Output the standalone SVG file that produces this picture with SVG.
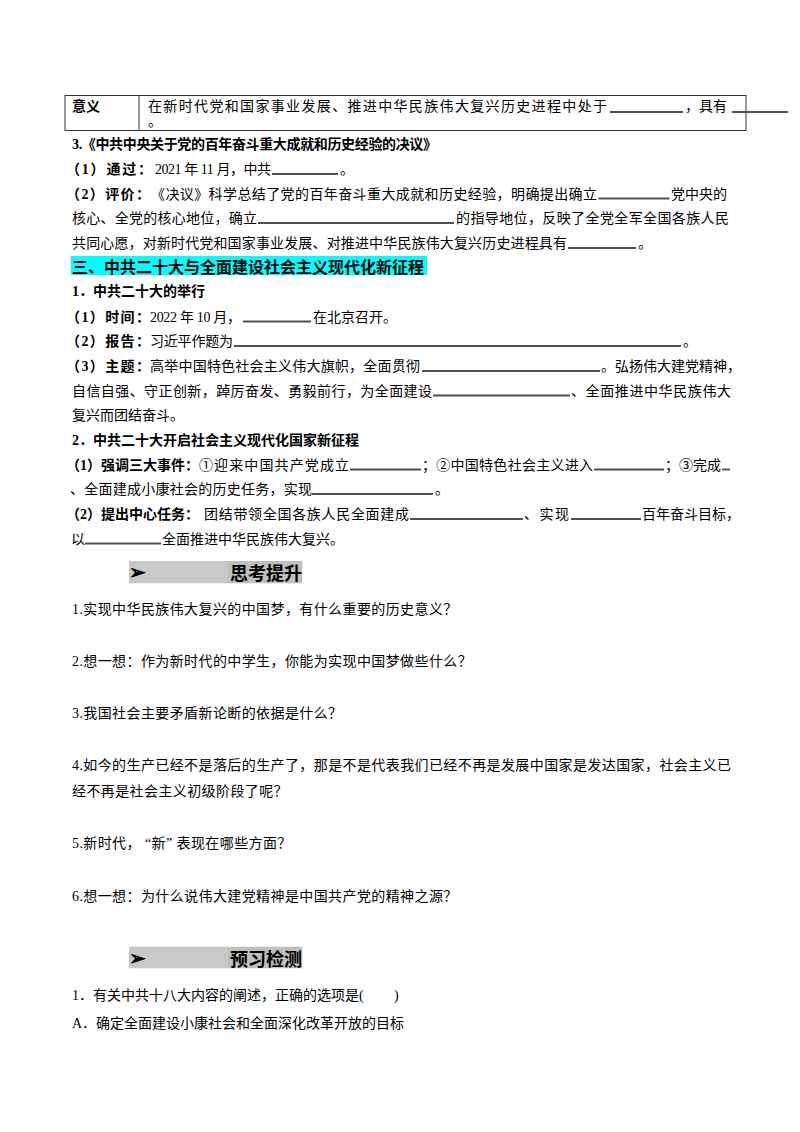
<svg xmlns="http://www.w3.org/2000/svg" width="800" height="1132" viewBox="0 0 800 1132">
<style>
.r{font-family:"Liberation Serif","Noto Sans CJK SC",serif;font-size:14px;fill:#000}
.b{font-family:"Liberation Serif","Noto Sans CJK SC",serif;font-size:14px;font-weight:bold;fill:#000}
.h{font-family:"Liberation Serif","Noto Sans CJK SC",sans-serif;font-size:16px;font-weight:bold;fill:#000}
.bt{font-family:"Noto Sans CJK SC",sans-serif;font-size:18px;font-weight:bold;fill:#000}
.ar{font-family:"DejaVu Sans",sans-serif;font-size:20px;font-weight:bold;fill:#000;stroke:#000;stroke-width:0.8}
.q{letter-spacing:0.4px}
.u{stroke:#505050;stroke-width:1.9;fill:none}
.g1{fill:#c8c8c8}
.g2{fill:#bfbfbf}
</style>
<rect width="800" height="1132" fill="#fff"/>

<g id="table">
<rect x="65" y="95.5" width="681" height="35" fill="none" stroke="#333" stroke-width="1"/>
<line x1="139" y1="95.5" x2="139" y2="130.5" stroke="#333" stroke-width="1"/>
<text class="b" x="72" y="111">意义</text>
<text class="r" x="148" y="111" textLength="459">在新时代党和国家事业发展、推进中华民族伟大复兴历史进程中处于</text>
<line class="u" x1="610" y1="112" x2="683" y2="112"/>
<text class="r" x="685" y="111">，具有</text>
<line class="u" x1="732" y1="112" x2="788" y2="112"/>
<text class="r" x="148" y="126">。</text>
</g>

<g id="resolution">
<text class="b" x="72" y="149" textLength="365">3.《中共中央关于党的百年奋斗重大成就和历史经验的决议》</text>
<text class="b" x="66" y="174" textLength="86">（1）通过：</text>
<text class="r" x="155" y="174" textLength="116">2021 年 11 月，中共</text>
<line class="u" x1="272" y1="174" x2="338" y2="174"/>
<text class="r" x="340" y="174">。</text>
<text class="b" x="66" y="198.5" textLength="84">（2）评价：</text>
<text class="r" x="151" y="198.5" textLength="446">《决议》科学总结了党的百年奋斗重大成就和历史经验，明确提出确立</text>
<line class="u" x1="598.5" y1="198.5" x2="669.5" y2="198.5"/>
<text class="r" x="671" y="198.5" textLength="56">党中央的</text>
<text class="r" x="72" y="223" textLength="185">核心、全党的核心地位，确立</text>
<line class="u" x1="258" y1="223" x2="454" y2="223"/>
<text class="r" x="456" y="223" textLength="273">的指导地位，反映了全党全军全国各族人民</text>
<text class="r" x="72" y="248" textLength="495">共同心愿，对新时代党和国家事业发展、对推进中华民族伟大复兴历史进程具有</text>
<line class="u" x1="568" y1="248" x2="636" y2="248"/>
<text class="r" x="638" y="248">。</text>
</g>

<g id="section3">
<rect x="71" y="256" width="356" height="19" fill="#00ffff"/>
<text class="h" x="72" y="272.5" textLength="352">三、中共二十大与全面建设社会主义现代化新征程</text>
<text class="b" x="72" y="296">1．中共二十大的举行</text>
<text class="b" x="66" y="321.5" textLength="84">（1）时间：</text>
<text class="r" x="150" y="321.5" textLength="91">2022 年 10 月，</text>
<line class="u" x1="243" y1="321.5" x2="311" y2="321.5"/>
<text class="r" x="313" y="321.5">在北京召开。</text>
<text class="b" x="66" y="346" textLength="84">（2）报告：</text>
<text class="r" x="150" y="346" textLength="83">习近平作题为</text>
<line class="u" x1="234" y1="346" x2="681" y2="346"/>
<text class="r" x="683" y="346">。</text>
<text class="b" x="66" y="371" textLength="84">（3）主题：</text>
<text class="r" x="150" y="371" textLength="270">高举中国特色社会主义伟大旗帜，全面贯彻</text>
<line class="u" x1="422" y1="371" x2="600" y2="371"/>
<text class="r" x="601" y="371">。弘扬伟大建党精神，</text>
<text class="r" x="72" y="395.5" textLength="360">自信自强、守正创新，踔厉奋发、勇毅前行，为全面建设</text>
<line class="u" x1="433" y1="395.5" x2="570" y2="395.5"/>
<text class="r" x="571" y="395.5" textLength="160">、全面推进中华民族伟大</text>
<text class="r" x="72" y="420">复兴而团结奋斗。</text>
<text class="b" x="72" y="445">2．中共二十大开启社会主义现代化国家新征程</text>
<text class="b" x="66" y="469.5">（1）强调三大事件：</text>
<text class="r" x="199" y="469.5" textLength="150">①迎来中国共产党成立</text>
<line class="u" x1="350" y1="469.5" x2="421" y2="469.5"/>
<text class="r" x="422" y="469.5" textLength="171">；②中国特色社会主义进入</text>
<line class="u" x1="594" y1="469.5" x2="664" y2="469.5"/>
<text class="r" x="665" y="469.5" textLength="56">；③完成</text>
<line class="u" x1="722" y1="469.5" x2="730" y2="469.5"/>
<text class="r" x="70" y="494" textLength="242">、全面建成小康社会的历史任务，实现</text>
<line class="u" x1="312" y1="494" x2="433" y2="494"/>
<text class="r" x="435" y="494">。</text>
<text class="b" x="66" y="519">（2）提出中心任务：</text>
<text class="r" x="204" y="519" textLength="205">团结带领全国各族人民全面建成</text>
<line class="u" x1="410" y1="519" x2="523" y2="519"/>
<text class="r" x="524" y="519" textLength="45">、实现</text>
<line class="u" x1="571" y1="519" x2="641" y2="519"/>
<text class="r" x="642" y="519">百年奋斗目标，</text>
<text class="r" x="71" y="543.5">以</text>
<line class="u" x1="85" y1="543.5" x2="161" y2="543.5"/>
<text class="r" x="162" y="543.5">全面推进中华民族伟大复兴。</text>
</g>

<g id="banner-think">
<rect class="g1" x="129" y="561" width="99" height="22.3"/>
<rect class="g2" x="228" y="561" width="74.3" height="22.3"/>
<text class="ar" x="129" y="579">➢</text>
<text class="bt" x="230" y="580">思考提升</text>
</g>

<g id="questions">
<text class="r q" x="72" y="614">1.实现中华民族伟大复兴的中国梦，有什么重要的历史意义？</text>
<text class="r q" x="72" y="666">2.想一想：作为新时代的中学生，你能为实现中国梦做些什么？</text>
<text class="r q" x="72" y="718">3.我国社会主要矛盾新论断的依据是什么？</text>
<text class="r" x="72" y="770" textLength="659">4.如今的生产已经不是落后的生产了，那是不是代表我们已经不再是发展中国家是发达国家，社会主义已</text>
<text class="r q" x="72" y="795.5">经不再是社会主义初级阶段了呢？</text>
<text class="r q" x="72" y="848">5.新时代，<tspan dx="4">“新”</tspan><tspan dx="4">表现在哪些方面？</tspan></text>
<text class="r q" x="72" y="901">6.想一想：为什么说伟大建党精神是中国共产党的精神之源？</text>
</g>

<g id="banner-check">
<rect class="g1" x="129" y="946.7" width="99" height="21.6"/>
<rect class="g2" x="228" y="946.7" width="74.3" height="21.6"/>
<text class="ar" x="129" y="964.5">➢</text>
<text class="bt" x="230" y="965.5">预习检测</text>
</g>

<g id="quiz">
<text class="r" x="72" y="1000">1．有关中共十八大内容的阐述，正确的选项是(</text>
<text class="r" x="394" y="1000">)</text>
<text class="r" x="72" y="1028">A．确定全面建设小康社会和全面深化改革开放的目标</text>
</g>
</svg>
